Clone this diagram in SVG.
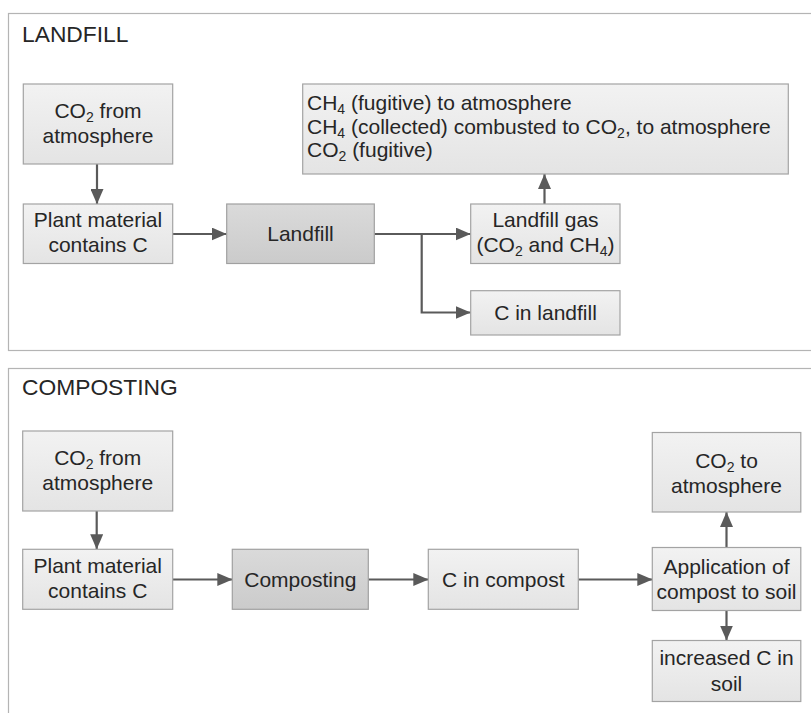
<svg xmlns="http://www.w3.org/2000/svg" width="811" height="713" viewBox="0 0 811 713">
  <style>
    .panel { fill: #ffffff; stroke: #b4b4b4; stroke-width: 1.2; }
    .box { fill: url(#lightFill); stroke: #a3a3a3; stroke-width: 1.2; }
    .dark { fill: url(#darkFill); stroke: #a0a0a0; stroke-width: 1.2; }
    text { font-family: "Liberation Sans", Arial, sans-serif; fill: #262626; }
    .title { font-size: 22.8px; }
    .lbl { font-size: 21px; text-anchor: middle; }
    .lft { font-size: 21px; }
    .sub { font-size: 14px; }
    .conn { fill: none; stroke: #5a5a5a; stroke-width: 2.2; }
  </style>
  <defs>
    <linearGradient id="lightFill" x1="0" y1="0" x2="0" y2="1">
      <stop offset="0" stop-color="#f2f2f2"/>
      <stop offset="1" stop-color="#e4e4e4"/>
    </linearGradient>
    <linearGradient id="darkFill" x1="0" y1="0" x2="0" y2="1">
      <stop offset="0" stop-color="#dadada"/>
      <stop offset="1" stop-color="#cbcbcb"/>
    </linearGradient>
    <marker id="arrow" viewBox="0 0 15 13" markerWidth="15" markerHeight="13" refX="15" refY="6.5" orient="auto" markerUnits="userSpaceOnUse">
      <path d="M0,0 L15,6.5 L0,13 Z" fill="#5a5a5a"/>
    </marker>
  </defs>

  <!-- Landfill pathway panel -->
  <g id="panel-landfill">
    <rect class="panel" x="8.5" y="13.5" width="820" height="337"/>
    <text class="title" x="22" y="41.5">LANDFILL</text>
  </g>

  <!-- Composting pathway panel -->
  <g id="panel-composting">
    <rect class="panel" x="8.5" y="368.5" width="820" height="360"/>
    <text class="title" x="22" y="395">COMPOSTING</text>
  </g>

  <!-- Connectors -->
  <g id="connectors">
    <!-- landfill -->
    <line class="conn" x1="97" y1="164" x2="97" y2="204" marker-end="url(#arrow)"/>
    <line class="conn" x1="173" y1="234" x2="226.7" y2="234" marker-end="url(#arrow)"/>
    <line class="conn" x1="374.3" y1="234" x2="470.7" y2="234" marker-end="url(#arrow)"/>
    <polyline class="conn" points="421.7,234 421.7,312.5 470.7,312.5" marker-end="url(#arrow)"/>
    <line class="conn" x1="544.5" y1="204" x2="544.5" y2="174" marker-end="url(#arrow)"/>
    <!-- composting -->
    <line class="conn" x1="96.7" y1="511" x2="96.7" y2="549.3" marker-end="url(#arrow)"/>
    <line class="conn" x1="173" y1="579.5" x2="232.3" y2="579.5" marker-end="url(#arrow)"/>
    <line class="conn" x1="368.3" y1="579.5" x2="428.3" y2="579.5" marker-end="url(#arrow)"/>
    <line class="conn" x1="578.3" y1="579.5" x2="652.3" y2="579.5" marker-end="url(#arrow)"/>
    <line class="conn" x1="726.5" y1="547.5" x2="726.5" y2="512" marker-end="url(#arrow)"/>
    <line class="conn" x1="726.5" y1="610.5" x2="726.5" y2="640.5" marker-end="url(#arrow)"/>
  </g>

  <!-- Landfill nodes -->
  <g id="lf-co2-from-atmosphere">
    <rect class="box" x="23.3" y="84" width="149.4" height="80"/>
    <text class="lbl" x="98" y="118"><tspan>CO</tspan><tspan class="sub" dy="4">2</tspan><tspan dy="-4"> from</tspan></text>
    <text class="lbl" x="98" y="143">atmosphere</text>
  </g>
  <g id="lf-plant-material">
    <rect class="box" x="23.3" y="204" width="149.4" height="59.5"/>
    <text class="lbl" x="98" y="227">Plant material</text>
    <text class="lbl" x="98" y="252">contains C</text>
  </g>
  <g id="lf-landfill">
    <rect class="dark" x="226.7" y="204" width="147.6" height="59.5"/>
    <text class="lbl" x="300.5" y="240.5">Landfill</text>
  </g>
  <g id="lf-landfill-gas">
    <rect class="box" x="470.7" y="204" width="149.3" height="59.5"/>
    <text class="lbl" x="545.5" y="227">Landfill gas</text>
    <text class="lbl" x="545.5" y="252"><tspan>(CO</tspan><tspan class="sub" dy="4">2</tspan><tspan dy="-4"> and CH</tspan><tspan class="sub" dy="4">4</tspan><tspan dy="-4">)</tspan></text>
  </g>
  <g id="lf-c-in-landfill">
    <rect class="box" x="470.7" y="290.7" width="149.3" height="44.3"/>
    <text class="lbl" x="545.5" y="319.5">C in landfill</text>
  </g>
  <g id="lf-gas-fates">
    <rect class="box" x="302.7" y="84" width="485.6" height="90"/>
    <text class="lft" x="307" y="110"><tspan>CH</tspan><tspan class="sub" dy="4">4</tspan><tspan dy="-4"> (fugitive) to atmosphere</tspan></text>
    <text class="lft" x="307" y="133.5"><tspan>CH</tspan><tspan class="sub" dy="4">4</tspan><tspan dy="-4"> (collected) combusted to CO</tspan><tspan class="sub" dy="4">2</tspan><tspan dy="-4">, to atmosphere</tspan></text>
    <text class="lft" x="307" y="157"><tspan>CO</tspan><tspan class="sub" dy="4">2</tspan><tspan dy="-4"> (fugitive)</tspan></text>
  </g>

  <!-- Composting nodes -->
  <g id="cp-co2-from-atmosphere">
    <rect class="box" x="22.7" y="431" width="150" height="80"/>
    <text class="lbl" x="97.7" y="464.5"><tspan>CO</tspan><tspan class="sub" dy="4">2</tspan><tspan dy="-4"> from</tspan></text>
    <text class="lbl" x="97.7" y="489.5">atmosphere</text>
  </g>
  <g id="cp-plant-material">
    <rect class="box" x="22.7" y="549.3" width="150" height="60"/>
    <text class="lbl" x="97.7" y="573">Plant material</text>
    <text class="lbl" x="97.7" y="597.5">contains C</text>
  </g>
  <g id="cp-composting">
    <rect class="dark" x="232.3" y="549.3" width="136" height="60"/>
    <text class="lbl" x="300.3" y="586.5">Composting</text>
  </g>
  <g id="cp-c-in-compost">
    <rect class="box" x="428.3" y="549.3" width="150" height="60"/>
    <text class="lbl" x="503.3" y="586.5">C in compost</text>
  </g>
  <g id="cp-application">
    <rect class="box" x="652.3" y="547.5" width="148.5" height="63"/>
    <text class="lbl" x="726.5" y="573.5">Application of</text>
    <text class="lbl" x="726.5" y="598.5">compost to soil</text>
  </g>
  <g id="cp-co2-to-atmosphere">
    <rect class="box" x="652.3" y="432.5" width="148.5" height="79.5"/>
    <text class="lbl" x="726.5" y="467.5"><tspan>CO</tspan><tspan class="sub" dy="4">2</tspan><tspan dy="-4"> to</tspan></text>
    <text class="lbl" x="726.5" y="492.5">atmosphere</text>
  </g>
  <g id="cp-increased-c">
    <rect class="box" x="652.3" y="640.5" width="148.5" height="61"/>
    <text class="lbl" x="726.5" y="665">increased C in</text>
    <text class="lbl" x="726.5" y="691">soil</text>
  </g>
</svg>
